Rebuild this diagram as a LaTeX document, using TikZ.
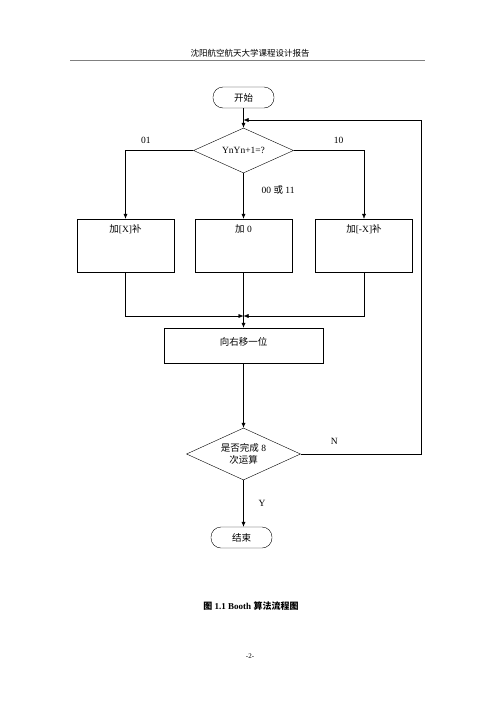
\documentclass[tikz,border=0pt]{standalone}
\usepackage{fontspec}
\setmainfont{Liberation Serif}
\newfontfamily\zh{Noto Sans CJK SC}
\usepackage{tikz}
\usetikzlibrary{shapes.geometric,arrows.meta}

\begin{document}
\begin{tikzpicture}[
  x=1pt, y=-1pt,
  every node/.style={font=\fontsize{9.5}{11}\selectfont},
  term/.style={draw, rounded corners=10pt, minimum width=61pt, minimum height=21pt, inner sep=0pt},
  dia/.style={draw, diamond, aspect=2.2, inner sep=0pt, align=center},
  box/.style={draw, minimum width=97pt, minimum height=53pt, text height=8pt, text depth=34pt},
  arr/.style={-{Latex[length=5pt,width=4pt]}, thin},
  lbl/.style={inner sep=1pt}
]
  \useasboundingbox[fill=white] (0,0) rectangle (500,707);

  % Header
  \node (head) at (250,53) {\zh\fontsize{8.5}{10}\selectfont 沈阳航空航天大学课程设计报告};
  \draw[line width=0.8pt, gray] (70,60) -- (425,60);

  % Nodes
  \node[term] (start) at (243.5,97.5) {\zh 开始};
  \node[dia, minimum width=100pt, minimum height=45pt] (ask) at (243.5,150.5) {YnYn+1=?};
  \node[box] (addx) at (125.5,245.5) {{\zh 加}[X]{\zh 补}};
  \node[box] (addz) at (243.5,245.5) {{\zh 加} 0};
  \node[box] (addn) at (364,245.5) {{\zh 加}[-X]{\zh 补}};
  \node[draw, minimum width=159pt, minimum height=35pt, text height=8pt, text depth=8pt] (shift) at (243.5,345.5) {\zh 向右移一位};
  \node[dia, minimum width=114pt, minimum height=52pt] (done) at (243.5,454) {{\zh 是否完成} 8\\[1pt]{\zh 次运算}};
  \node[term] (stop) at (241.5,537.5) {\zh 结束};

  \coordinate (join) at (243.5,316);
  \coordinate (loop) at (421,120);
  \coordinate (entry) at (243.5,120);

  % Arrows
  \draw[arr] (start) -- (ask);
  \draw[arr] (ask.west) -| node[lbl, pos=0.35, above, yshift=6pt]{01} (addx.north);
  \draw[arr] (ask.south) -- node[lbl, pos=0.37, right, xshift=17pt]{00 {\zh 或} 11} (addz.north);
  \draw[arr] (ask.east) -| node[lbl, pos=0.32, above, yshift=6pt]{10} (addn.north);
  \draw[arr] (addx.south) |- (join);
  \draw[arr] (addn.south) |- (join);
  \draw[arr] (addz.south) -- (shift.north);
  \draw[arr] (shift) -- (done);
  \draw[arr] (done.east) -| node[lbl, pos=0.14, above, yshift=8pt]{N} (loop) -- (entry);
  \draw[arr] (done.south) -- node[lbl, pos=0.5, right, xshift=14pt]{Y} (stop.north -| done.south);

  % Caption
  \node (cap) at (251,606) {\bfseries\fontsize{9}{11}\selectfont{\zh 图} 1.1 Booth {\zh 算法流程图}};
  \node (page) at (250,656) {\fontsize{7}{8}\selectfont -2-};
\end{tikzpicture}
\end{document}
